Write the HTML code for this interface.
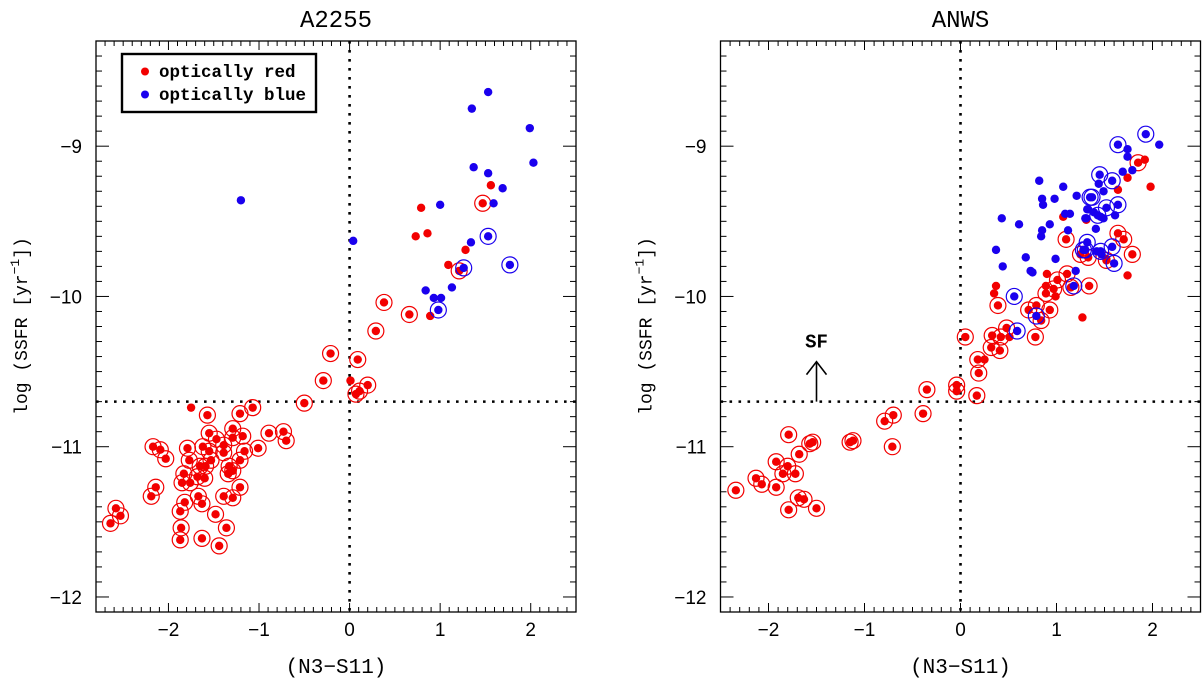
<!DOCTYPE html>
<html><head><meta charset="utf-8"><style>
body{margin:0;background:#fff;}
svg text{font-family:"Liberation Mono",monospace;}
</style></head><body>
<svg id="chart" width="1203" height="678" xmlns="http://www.w3.org/2000/svg"></svg>
<script>
// ---- Left panel (A2255) data ----
const leftRedX = [-1.75,1.56,0.79,0.73,0.86,1.28,1.09,0.89,0.01,
 1.47,1.21,0.38,0.66,0.29,-0.21,0.09,-0.29,0.20,0.11,0.07,-0.50,
 -1.07,-1.57,-1.21,-1.29,-1.55,-0.89,-0.73,-0.70,-1.18,-1.29,-1.47,-1.39,-1.62,-2.17,-2.09,-1.79,-1.01,-1.16,-1.39,-1.55,
 -2.03,-1.77,-1.21,-1.53,-1.65,-1.33,-1.59,-1.83,-1.68,-1.34,-1.29,-1.60,-1.85,-1.76,-2.14,-1.21,-2.19,-1.67,-1.39,-1.29,
 -1.82,-1.63,-2.58,-2.53,-2.64,-1.87,-1.48,-1.86,-1.36,-1.87,-1.63,-1.44];
const leftRedY = [-10.74,-9.26,-9.41,-9.60,-9.58,-9.69,-9.79,-10.13,-10.56,
 -9.38,-9.83,-10.04,-10.12,-10.23,-10.38,-10.42,-10.56,-10.59,-10.63,-10.65,-10.71,
 -10.74,-10.79,-10.78,-10.88,-10.91,-10.91,-10.90,-10.96,-10.93,-10.94,-10.95,-10.99,-11.00,-11.00,-11.02,-11.01,-11.01,-11.03,-11.04,-11.03,
 -11.08,-11.09,-11.09,-11.09,-11.13,-11.13,-11.13,-11.18,-11.20,-11.18,-11.16,-11.21,-11.24,-11.24,-11.27,-11.27,-11.33,-11.33,-11.33,-11.34,
 -11.37,-11.38,-11.41,-11.46,-11.51,-11.43,-11.45,-11.54,-11.54,-11.62,-11.61,-11.66];
const leftRedCircled = [0,0,0,0,0,0,0,0,0,
 1,1,1,1,1,1,1,1,1,1,1,1, 1,1,1,1,1,1,1,1,1,1,1,1,1,1,1,1,1,1,1,1,
 1,1,1,1,1,1,1,1,1,1,1,1,1,1,1,1,1,1,1,1, 1,1,1,1,1,1,1,1,1,1,1,1];
const leftBlueX = [1.53,1.35,1.99,2.03,1.37,1.53,1.69,1.59,1.00,0.04,1.34,1.13,0.84,0.93,1.01,-1.20,1.53,1.77,1.26,0.98];
const leftBlueY = [-8.64,-8.75,-8.88,-9.11,-9.14,-9.18,-9.28,-9.38,-9.39,-9.63,-9.64,-9.94,-9.96,-10.01,-10.01,-9.36,-9.60,-9.79,-9.81,-10.09];
const leftBlueCircled = [0,0,0,0,0,0,0,0,0,0,0,0,0,0,0,0,1,1,1,1];

// ---- Right panel (ANWS) data ----
const rightRedX = [1.07,0.90,0.37,0.35,0.89,0.99,1.27,0.51,0.25,1.92,1.74,1.64,1.98,1.31,1.52,1.74,
 -2.34,-2.13,-2.07,-1.92,-1.92,-1.85,-1.80,-1.72,-1.79,-1.68,-1.69,-1.63,-1.79,-1.50,-1.57,-1.54,-1.15,-1.12,-0.71,-0.79,-0.70,-0.39,-0.35,-0.04,-0.04,0.05,0.17,0.18,0.19,
 1.10,1.11,1.01,0.97,0.89,1.15,0.39,0.71,0.79,0.93,0.84,0.48,0.33,0.42,0.78,0.32,0.41,1.25,1.33,1.34,1.85,1.64,1.70,1.79,1.52];
const rightRedY = [-9.47,-9.85,-9.93,-9.98,-9.93,-10.00,-10.14,-10.27,-10.42,-9.09,-9.21,-9.29,-9.27,-9.49,-9.75,-9.86,
 -11.29,-11.21,-11.25,-11.27,-11.10,-11.18,-11.13,-11.18,-10.92,-11.05,-11.34,-11.35,-11.42,-11.41,-10.98,-10.97,-10.97,-10.96,-11.00,-10.83,-10.79,-10.78,-10.62,-10.59,-10.63,-10.27,-10.66,-10.42,-10.51,
 -9.62,-9.85,-9.89,-9.95,-9.98,-9.94,-10.06,-10.09,-10.06,-10.09,-10.16,-10.21,-10.26,-10.27,-10.27,-10.34,-10.36,-9.72,-9.74,-9.93,-9.11,-9.58,-9.62,-9.72,-9.76];
const rightRedCircled = [0,0,0,0,0,0,0,0,0,0,0,0,0,0,0,0,
 1,1,1,1,1,1,1,1,1,1,1,1,1,1,1,1,1,1,1,1,1,1,1,1,1,1,1,1,1,
 1,1,1,1,1,1,1,1,1,1,1,1,1,1,1,1,1,1,1,1,1,1,1,1,1];
const rightBlueX = [0.82,1.07,0.85,0.86,0.98,1.21,0.43,0.61,0.93,0.85,0.84,1.12,1.09,1.14,1.32,1.31,0.37,0.68,0.99,0.44,0.73,0.75,1.20,
 2.07,1.74,1.74,1.69,1.79,1.44,1.49,1.33,1.39,1.46,1.49,1.61,1.30,1.41,1.42,1.47,
 0.56,0.59,0.79,1.18,1.32,1.28,1.35,1.93,1.64,1.45,1.58,1.37,1.52,1.64,1.43,1.46,1.58,1.60,1.30];
const rightBlueY = [-9.23,-9.27,-9.35,-9.39,-9.35,-9.33,-9.48,-9.52,-9.52,-9.56,-9.60,-9.56,-9.45,-9.45,-9.42,-9.48,-9.69,-9.74,-9.75,-9.80,-9.83,-9.84,-9.83,
 -8.99,-9.02,-9.07,-9.17,-9.16,-9.25,-9.30,-9.42,-9.44,-9.47,-9.48,-9.46,-9.48,-9.55,-9.70,-9.72,
 -10.00,-10.23,-10.13,-9.93,-9.64,-9.69,-9.34,-8.92,-8.99,-9.19,-9.23,-9.34,-9.41,-9.39,-9.46,-9.70,-9.67,-9.78,-9.69];
const rightBlueCircled = [0,0,0,0,0,0,0,0,0,0,0,0,0,0,0,0,0,0,0,0,0,0,0,
 0,0,0,0,0,0,0,0,0,0,0,0,0,0,0,0,
 1,1,1,1,1,1,1,1,1,1,1,1,1,1,1,1,1,1,1];

const xTicks = [-2,-1,0,1,2];
const yTicks = [-9,-10,-11,-12];
const yRange = [-12.1,-8.3];
const sfThreshold = -10.7;

const NS = "http://www.w3.org/2000/svg";
const svg = document.getElementById('chart');
function mk(tag, attrs, parent){
  const e = document.createElementNS(NS, tag);
  for (const k in attrs) e.setAttribute(k, attrs[k]);
  (parent||svg).appendChild(e);
  return e;
}
const TOP=41, BOT=612;

function panel(p){
  const g = mk('g',{});
  
  
  const sx = v => p.left + (v - p.xmin)/(p.xmax - p.xmin)*(p.right - p.left);
  const sy = v => BOT - (v - yRange[0])/(yRange[1]-yRange[0])*(BOT-TOP);
  const fr = mk('rect',{x:p.left,y:TOP,width:p.right-p.left,height:BOT-TOP,fill:'none',stroke:'#000','stroke-width':1.3},g);
  
  
  const tk = mk('g',{stroke:'#000','stroke-width':1},g);
  
  
  for (let i=Math.ceil(p.xmin*10); i<=Math.floor(p.xmax*10); i++){
    const x = sx(i/10), L = (i%10===0)?9:5;
    mk('line',{x1:x,y1:BOT,x2:x,y2:BOT-L},tk);
    mk('line',{x1:x,y1:TOP,x2:x,y2:TOP+L},tk);
  }
  for (let i=Math.ceil(yRange[0]*10); i<=Math.floor(yRange[1]*10); i++){
    const y = sy(i/10), L = (i%10===0)?13:6;
    mk('line',{x1:p.left,y1:y,x2:p.left+L,y2:y},tk);
    mk('line',{x1:p.right,y1:y,x2:p.right-L,y2:y},tk);
  }
  xTicks.forEach(v=>{
    const t = mk('text',{x:sx(v),y:636,'text-anchor':'middle','font-size':19,style:'font-family:"Liberation Sans",sans-serif'},g);
    t.textContent = v<0 ? '\u2212'+Math.abs(v) : String(v);
    
    
  });
  yTicks.forEach(v=>{
    const t = mk('text',{x:p.left-14,y:sy(v)+7,'text-anchor':'end','font-size':19,style:'font-family:"Liberation Sans",sans-serif'},g);
    t.textContent = '\u2212'+Math.abs(v);
    
    
  });
  const vl = mk('line',{x1:sx(0),y1:TOP,x2:sx(0),y2:BOT,stroke:'#000','stroke-width':2.6,'stroke-dasharray':'2.6 6.4'},g);
  
  
  const hl = mk('line',{x1:p.left,y1:sy(sfThreshold),x2:p.right,y2:sy(sfThreshold),stroke:'#000','stroke-width':2.6,'stroke-dasharray':'2.6 6.4'},g);
  
  
  const cx = (p.left+p.right)/2;
  const ti = mk('text',{x:cx,y:27,'text-anchor':'middle','font-size':24},g);
  ti.textContent = p.title;
  
  
  const xl = mk('text',{x:cx,y:673,'text-anchor':'middle','font-size':21},g);
  xl.textContent = '(N3\u2212S11)';
  
  
  const yl = mk('text',{x:0,y:0,'text-anchor':'middle','font-size':18,transform:`translate(${p.left-69},326) rotate(-90)`},g);
  yl.innerHTML = 'log (SSFR [yr<tspan dy="-8" font-size="13">\u22121</tspan><tspan dy="8">])</tspan>';
  
  
  function series(X,Y,C,color,name){
    const sg = mk('g',{},g);
    
    
    for (let i=0;i<X.length;i++){
      const x=sx(X[i]), y=sy(Y[i]);
      if (C[i]){
        const c = mk('circle',{cx:x,cy:y,r:8,fill:'none',stroke:color,'stroke-width':1.2},sg);
        
        
      }
      const d = mk('circle',{cx:x,cy:y,r:4.2,fill:color},sg);
      
      
    }
  }
  series(p.rx,p.ry,p.rc,'#f20000','optically-red-series');
  series(p.bx,p.by,p.bc,'#1a00ee','optically-blue-series');
  return {sx,sy,g};
}

const L = panel({name:'a2255-panel',title:'A2255',left:96,right:576,xmin:-2.8,xmax:2.5,
  rx:leftRedX,ry:leftRedY,rc:leftRedCircled,bx:leftBlueX,by:leftBlueY,bc:leftBlueCircled});
const R = panel({name:'anws-panel',title:'ANWS',left:720.5,right:1200.5,xmin:-2.5,xmax:2.5,
  rx:rightRedX,ry:rightRedY,rc:rightRedCircled,bx:rightBlueX,by:rightBlueY,bc:rightBlueCircled});

const lg = mk('g',{});


mk('rect',{x:122,y:54,width:194,height:58,fill:'#fff',stroke:'#000','stroke-width':2.4},lg);
mk('circle',{cx:145,cy:71.5,r:4,fill:'#f20000'},lg);
mk('circle',{cx:145,cy:94.5,r:4,fill:'#1a00ee'},lg);
const l1 = mk('text',{x:159,y:77,'font-size':17.5,'font-weight':'bold'},lg);
l1.textContent='optically red';


const l2 = mk('text',{x:159,y:100,'font-size':17.5,'font-weight':'bold'},lg);
l2.textContent='optically blue';



const sfg = mk('g',{stroke:'#000','stroke-width':1.6,fill:'none'});


const ax = R.sx(-1.5), ay = R.sy(sfThreshold);
mk('line',{x1:ax,y1:ay,x2:ax,y2:ay-40},sfg);
mk('polyline',{points:`${ax-10},${ay-27} ${ax},${ay-40} ${ax+10},${ay-27}`},sfg);
const sft = mk('text',{x:ax,y:ay-54,'text-anchor':'middle','font-size':19,'font-weight':'bold'});
sft.textContent='SF';


</script>
</body></html>
